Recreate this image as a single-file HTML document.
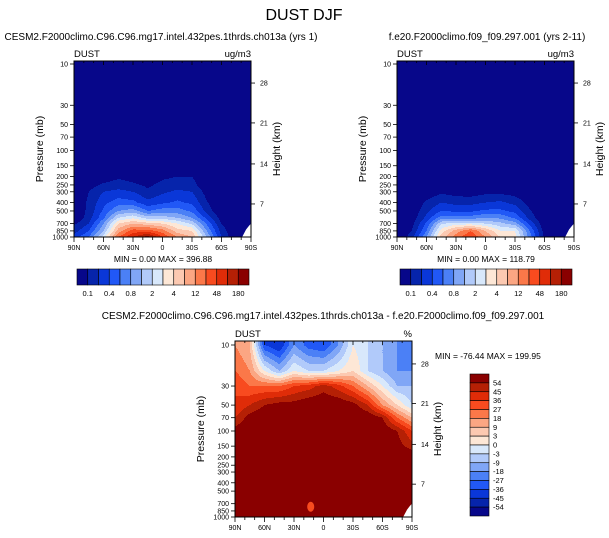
<!DOCTYPE html>
<html><head><meta charset="utf-8"><style>
body{margin:0;background:#fff;}
svg{display:block;font-family:"Liberation Sans",Arial,sans-serif;}
</style></head><body>
<svg id="fig" width="609" height="538" viewBox="0 0 609 538">
<rect width="609" height="538" fill="#fff"/>
<text x="304" y="20" font-size="16" text-anchor="middle">DUST DJF</text>
</svg>
<script>
// ===== data =====
const lats = [90,75,60,45,30,15,0,-15,-30,-45,-60,-75,-90];
const pLevels = [10,20,30,50,70,100,150,200,250,300,400,500,600,700,850,1000];
const z13 = [0,0,0,0,0,0,0,0,0,0,0,0,0];
// contour level index (0..15) per pressure row, per latitude column
const gridCtl = [z13,z13,z13,z13,z13,z13,z13,
  [0,0,0.3,0.8,0.5,0.2,0.8,1,1,0,0,0,0],
  [0,0.5,1.2,1.5,1.2,0.8,1.3,1.5,1.4,0.2,0,0,0],
  [0,1,2,2.3,2,1.2,1.8,2.2,2,0.6,0,0,0],
  [0,1.2,2.7,3.5,3.3,2.3,2.8,3.2,2.8,1.1,0,0,0],
  [0,1.3,3.2,5,5.5,4,4.5,4.5,3.8,1.6,0,0,0],
  [0,1.5,3.8,7,7.8,6.5,6.5,6,5,2.7,0.5,0,0],
  [0.8,2,5,9,10,9.5,9,8,6.8,3.8,1,0,0],
  [1.5,3,6,10.5,12.5,12.5,11.5,9.5,9,5,1.5,0,0],
  [2.5,4,7.5,12,14,15.5,13,11,10,6,2,0,0]];
const gridExp = [z13,z13,z13,z13,z13,z13,z13,z13,z13,
  [0,0,0.2,0.8,0.5,0.4,0.7,0.7,0.5,0,0,0,0],
  [0,0,1.2,2,1.7,1.7,2,2.2,1.7,0.6,0,0,0],
  [0,0.2,1.7,3,2.8,2.8,3.2,3.2,2.7,1.1,0,0,0],
  [0,0.3,2.3,4.5,4.5,4.5,5,4.8,3.8,1.6,0,0,0],
  [0,0.6,3.2,6.8,7.5,7.5,7,6.3,5.5,2.7,0.2,0,0],
  [0,1,4,8.5,10.5,12,10,8,8,4,0.5,0,0],
  [0,1.5,5,9.5,11.5,13,11,9,8.5,4.5,0.8,0,0]];
const f16 = [16,16,16,16,16,16,16,16,16,16,16,16,16];
const gridDiff = [
  [11,10,3,2,5,3.5,3,5,8,7,6,5,4],
  [12,11,8,6,8,7,7,8,9,7,6,5,5],
  [13,12,12,12,13,13.5,14.5,13.5,12,10,8,6,6],
  [13,14,15,15.5,15.5,16,16,16,15.5,14,11,9,7],
  [14,15.5,16,16,16,16,16,16,16,16,15,12,10],
  [15.5,16,16,16,16,16,16,16,16,16,16,15,13],
  [16,16,16,16,16,16,16,16,16,16,16,15.5,14.5],
  f16,f16,f16,f16,f16,f16,f16,f16,f16];
const colors = ["#07078a","#0624ab","#0a37d8","#2158f6","#4b80f6","#80a6f6","#b1cafa","#d8e8fb","#fde7d6","#fcc9b1","#fba683","#fb7849","#f84b1f","#e02c08","#b52005","#8a0000"];
const topCbLabels = ["0.1","0.4","0.8","2","4","12","48","180"];
const diffCbLabels = ["54","45","36","27","18","9","3","0","-3","-9","-18","-27","-36","-45","-54"];
const pTickLabels = [10,30,50,70,100,150,200,250,300,400,500,700,850,1000];
const hTickLabels = [28,21,14,7];
const hTickPressures = [16.6,48,143,415];
const latTickLabels = ["90N","60N","30N","0","30S","60S","90S"];

const NS="http://www.w3.org/2000/svg";
const svg=document.getElementById('fig');
function mk(tag,attrs,parent){const e=document.createElementNS(NS,tag);for(const k in attrs)e.setAttribute(k,attrs[k]);(parent||svg).appendChild(e);return e;}
function txt(x,y,s,size,anchor,parent){const t=mk('text',{x:x,y:y,'font-size':size,'text-anchor':anchor||'start'},parent);t.textContent=s;return t;}

function sample(grid,lat,p){
  const lp=Math.log10(Math.min(1000,Math.max(10,p)));
  let r=0;while(r<pLevels.length-2&&Math.log10(pLevels[r+1])<lp)r++;
  const a=Math.log10(pLevels[r]),b=Math.log10(pLevels[r+1]);
  const fr=Math.min(1,Math.max(0,(lp-a)/(b-a)));
  let c=0;while(c<lats.length-2&&lats[c+1]>lat)c++;
  const fc=Math.min(1,Math.max(0,(lats[c]-lat)/(lats[c]-lats[c+1])));
  const v00=grid[r][c],v01=grid[r][c+1],v10=grid[r+1][c],v11=grid[r+1][c+1];
  return (v00*(1-fc)+v01*fc)*(1-fr)+(v10*(1-fc)+v11*fc)*fr;
}

function panel(name,grid,x0,x1,y0,y1,py10,pxDec,opts){
  const g=mk('g',{},svg);
  
  
  const xOf=lat=>x0+(90-lat)/180*(x1-x0);
  const yOf=p=>py10+pxDec*(Math.log10(p)-1);
  const pOf=y=>Math.pow(10,1+(y-py10)/pxDec);
  const latOf=x=>90-(x-x0)/(x1-x0)*180;
  const bg=mk('rect',{x:x0,y:y0,width:x1-x0,height:y1-y0,fill:opts.bg},g);
  
  
  const cg=mk('g',{'shape-rendering':'crispEdges'},g);
  
  
  const step=1;
  for(let y=y0;y<y1;y+=step){
    const p=pOf(y+step/2);
    let runStart=x0,runIdx=-1;
    for(let x=x0;x<=x1;x+=step){
      let idx=-2;
      if(x<x1){const v=sample(grid,latOf(x+step/2),p);idx=Math.max(0,Math.min(15,Math.floor(v)));}
      if(idx!==runIdx){
        if(runIdx>=0){mk('rect',{x:runStart,y:y,width:Math.min(x,x1)-runStart+0.5,height:step+0.5,fill:colors[runIdx]},cg);}
        runStart=x;runIdx=idx;
      }
    }
  }
  const miss=mk('polygon',{points:[[xOf(-81),yOf(1000)],[xOf(-85),yOf(820)],[xOf(-88),yOf(740)],[xOf(-90),yOf(700)],[xOf(-90),yOf(1000)]].map(a=>a.join(',')).join(' '),fill:'#fff'},g);
  
  
  if(opts.blob){const b=mk('ellipse',{cx:xOf(13),cy:yOf(760),rx:3.5,ry:5,fill:colors[12]},g);
    }
  const fr=mk('rect',{x:x0,y:y0,width:x1-x0,height:y1-y0,fill:'none',stroke:'#000','stroke-width':1},g);
  
  pTickLabels.forEach(p=>{const y=yOf(p);mk('line',{x1:x0-4,x2:x0,y1:y,y2:y,stroke:'#000','stroke-width':0.8},g);
    const t=txt(x0-6,y+2.5,String(p),7,'end',g);});
  hTickLabels.forEach((h,i)=>{const y=yOf(hTickPressures[i]);mk('line',{x1:x1,x2:x1+4,y1:y,y2:y,stroke:'#000','stroke-width':0.8},g);
    const t=txt(x1+9,y+2.5,String(h),7,'start',g);});
  for(let lat=90;lat>=-90;lat-=10){const x=xOf(lat);const major=lat%30===0;
    mk('line',{x1:x,x2:x,y1:y1,y2:y1+(major?5:3),stroke:'#000','stroke-width':0.8},g);
    mk('line',{x1:x,x2:x,y1:y0,y2:y0+(major?4:2),stroke:'#000','stroke-width':0.8},g);}
  latTickLabels.forEach((s,i)=>{const t=txt(x0+i*(x1-x0)/6,y1+13,s,7,'middle',g);});
  const yl=mk('text',{x:0,y:0,'font-size':10.5,'text-anchor':'middle',transform:`translate(${x0-31},${(y0+y1)/2}) rotate(-90)`},g);yl.textContent='Pressure (mb)';
  
  const hl=mk('text',{x:0,y:0,'font-size':10.5,'text-anchor':'middle',transform:`translate(${x1+29},${(y0+y1)/2}) rotate(-90)`},g);hl.textContent='Height (km)';
  
  const d=txt(x0,y0-4,'DUST',9.5,'start',g);
  const u=txt(x1,y0-4,opts.units,9.5,'end',g);
  const tt=txt(opts.tx,opts.ty,opts.title,10,'middle',g);
  const mm=txt(opts.mx,opts.my,opts.minmax,8.5,opts.manchor,g);
}

function hColorbar(name,x0,x1,y0,y1){
  const g=mk('g',{},svg);
  
  
  const w=(x1-x0)/16;
  colors.forEach((c,i)=>{const r=mk('rect',{x:x0+i*w,y:y0,width:w,height:y1-y0,fill:c,stroke:'#000','stroke-width':0.6},g);
    });
  topCbLabels.forEach((s,i)=>{const t=txt(x0+(2*i+1)*w,y1+11,s,7.5,'middle',g);});
}
function vColorbar(name,x0,x1,y0,y1){
  const g=mk('g',{},svg);
  
  
  const h=(y1-y0)/16;
  colors.slice().reverse().forEach((c,i)=>{const r=mk('rect',{x:x0,y:y0+i*h,width:x1-x0,height:h,fill:c,stroke:'#000','stroke-width':0.6},g);
    });
  diffCbLabels.forEach((s,i)=>{const t=txt(x1+4,y0+(i+1)*h+2.5,s,7.5,'start',g);});
}

panel('control-panel',gridCtl,74,251,61,237,64,86.5,{bg:colors[0],units:'ug/m3',title:'CESM2.F2000climo.C96.C96.mg17.intel.432pes.1thrds.ch013a (yrs 1)',tx:161,ty:40,minmax:'MIN =   0.00  MAX = 396.88',mx:163,my:262,manchor:'middle'});
panel('experiment-panel',gridExp,397,574,61,237,64,86.5,{bg:colors[0],units:'ug/m3',title:'f.e20.F2000climo.f09_f09.297.001 (yrs 2-11)',tx:487,ty:40,minmax:'MIN =   0.00  MAX = 118.79',mx:486,my:262,manchor:'middle'});
panel('difference-panel',gridDiff,235,412,341,517,345,86,{bg:colors[15],units:'%',blob:true,title:'CESM2.F2000climo.C96.C96.mg17.intel.432pes.1thrds.ch013a - f.e20.F2000climo.f09_f09.297.001',tx:323,ty:319,minmax:'MIN = -76.44  MAX = 199.95',mx:435,my:359,manchor:'start'});
hColorbar('control-colorbar',77,249,269,285);
hColorbar('experiment-colorbar',400,572,269,285);
vColorbar('difference-colorbar',470,489,374,516);
</script>
</body></html>
